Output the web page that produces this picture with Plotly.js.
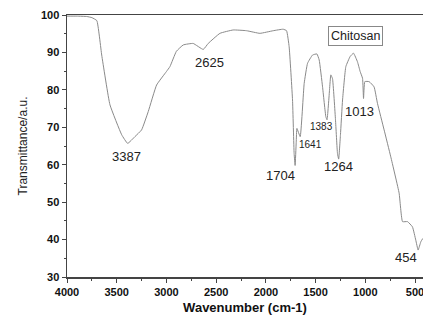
<!DOCTYPE html>
<html>
<head>
<meta charset="utf-8">
<script src="https://cdn.plot.ly/plotly-3.0.1.min.js"></script>
<style>html,body{margin:0;padding:0;background:#fff;}#chart{width:423px;height:320px;}</style>
</head>
<body>
<div id="chart"></div>
<script>
const wavenumber = [4000,3900,3800,3750,3700,3651,3568,3450,3390,3317,3250,3183,3099,3000,2965,2900,2831,2731,2630,2580,2462,2329,2194,2060,1927,1826,1792,1766,1732,1716,1706,1695,1688,1655,1615,1581,1531,1487,1464,1430,1397,1385,1360,1347,1330,1300,1280,1268,1250,1229,1196,1153,1119,1079,1052,1028,1018,1005,962,912,878,811,744,660,626,576,526,493,469,442,422];
const transmittance = [99.7,99.7,99.6,99.3,98.5,89.3,76,68,65.7,67.5,69.3,74.2,81.3,84.9,86.2,90.3,92,92.4,90.8,92.4,95.1,96,95.8,95.1,95.8,96.2,95.8,91.5,77.3,63,59.8,66,69.7,67.5,81.7,87.1,89.3,89.6,88,80.8,72.8,72,80,84,83,72,63,61.5,68,77.3,86.2,88.9,89.8,87.5,84.9,83.1,77.7,82.2,82.2,80.8,76.4,69.3,62.1,52.4,44.8,44.8,43.4,39.9,37.2,39.4,40.3];
const peakLabels = ["3387","2625","1704","1641","1383","1264","1013","454"];
const peakLabelX = [3397,2563,1849,1548,1437,1266,1055,593];
const peakLabelY = [62.1,87.2,57,65.3,70.3,59.4,74.1,35.1];
const peakLabelSize = [13,13,13,10,10,13,13,13];
const xTickVals = [4000,3500,3000,2500,2000,1500,1000,500];
const yTickVals = [30,40,50,60,70,80,90,100];
const sampleName = "Chitosan";

const font = "Liberation Sans, Arial, sans-serif";
const annotations = peakLabels.map((t,i)=>({
  text:t, x:peakLabelX[i], y:peakLabelY[i], xref:'x', yref:'y', showarrow:false,
  font:{family:font, size:peakLabelSize[i], color:'#222'}
}));
annotations.push({text:sampleName, x:1095, y:94.4, xref:'x', yref:'y', showarrow:false,
  font:{family:font, size:12.5, color:'#222'}, bordercolor:'#888', borderwidth:1, borderpad:2, bgcolor:'#fff'});

Plotly.newPlot('chart', [{
  x: wavenumber, y: transmittance, type:'scatter', mode:'lines',
  line:{color:'#8a8a8a', width:1, shape:'spline', smoothing:0.35}
}], {
  width:423, height:320,
  margin:{l:67, r:0, t:15, b:43},
  paper_bgcolor:'#fff', plot_bgcolor:'#fff',
  showlegend:false,
  xaxis:{range:[4000,420], tickvals:xTickVals, ticks:'outside', ticklen:4, tickwidth:1, tickcolor:'#444',
    showline:true, linecolor:'#444', linewidth:1.5, mirror:true, showgrid:false, zeroline:false,
    ticklabeloverflow:'allow',
    tickfont:{family:font, size:11, color:'#111', weight:'bold'},
    minor:{dtick:250, ticks:'outside', ticklen:2, tickcolor:'#444'},
    title:{text:'Wavenumber (cm-1)', font:{family:font, size:13, color:'#111', weight:'bold'}, standoff:6}},
  yaxis:{range:[30,100], tickvals:yTickVals, ticks:'outside', ticklen:4, tickwidth:1, tickcolor:'#444',
    showline:true, linecolor:'#444', linewidth:1.5, mirror:true, showgrid:false, zeroline:false,
    tickfont:{family:font, size:11, color:'#111', weight:'bold'},
    minor:{dtick:5, ticks:'outside', ticklen:2, tickcolor:'#444'},
    title:{text:'Transmittance/a.u.', font:{family:font, size:12, color:'#222'}, standoff:10}},
  annotations: annotations
}, {displayModeBar:false, staticPlot:true});
</script>
</body>
</html>
